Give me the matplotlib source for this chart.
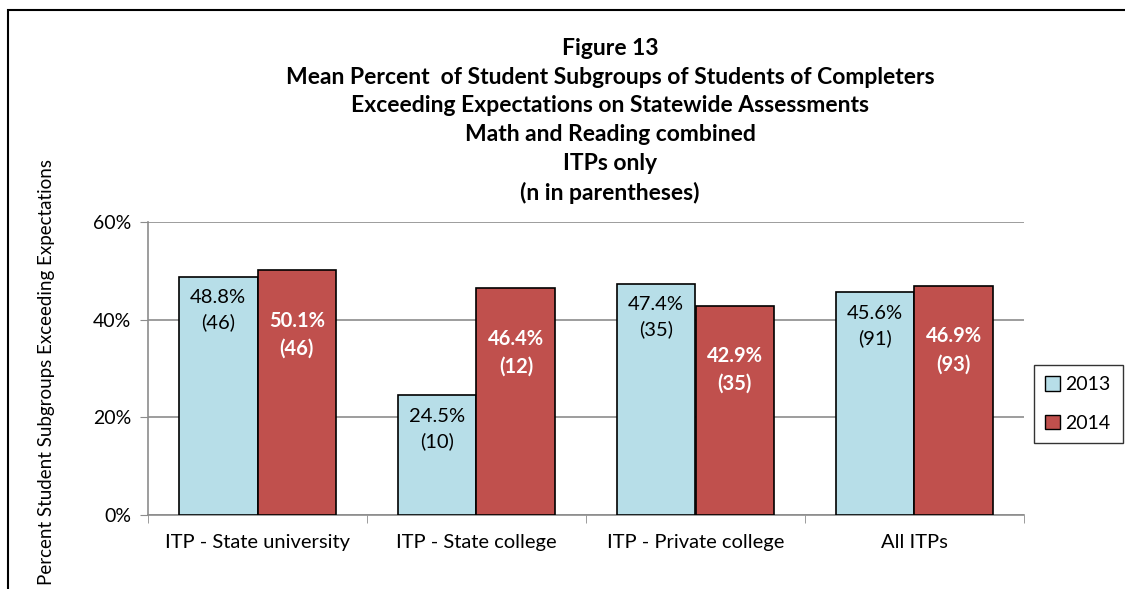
import matplotlib.pyplot as plt
import numpy as np
from matplotlib.patches import Patch, Rectangle

categories = ["ITP - State university", "ITP - State college", "ITP - Private college", "All ITPs"]
values_2013 = [48.8, 24.5, 47.4, 45.6]
values_2014 = [50.1, 46.4, 42.9, 46.9]
n_2013 = [46, 10, 35, 91]
n_2014 = [46, 12, 35, 93]
series_names = ["2013", "2014"]

title_lines = [
    "Figure 13",
    "Mean Percent  of Student Subgroups of Students of Completers",
    "Exceeding Expectations on Statewide Assessments",
    "Math and Reading combined",
    "ITPs only",
    "(n in parentheses)",
]

BLUE = "#B7DEE8"
RED = "#C0504D"
GRID = "#8C8C8C"

plt.rcParams["font.family"] = ["Lato", "DejaVu Sans"]

fig = plt.figure(figsize=(11.25, 5.89), dpi=100)
ax = fig.add_axes([148 / 1125, 1 - 515 / 589, (1024 - 148) / 1125, (515 - 222) / 589])

# outer frame (cut off at the right and bottom in the original)
fig.patches.append(Rectangle((8 / 1125, -0.1), 1.2, 1 - 10 / 589 + 0.1, transform=fig.transFigure,
                             fill=False, edgecolor="black", linewidth=1.5))

x = np.arange(len(categories))
width = 0.36
bars_a = ax.bar(x - width / 2, values_2013, width, color=BLUE, edgecolor="black", linewidth=1.2, zorder=3)
bars_b = ax.bar(x + width / 2, values_2014, width, color=RED, edgecolor="black", linewidth=1.2, zorder=3)

for bar, v, n in zip(bars_a, values_2013, n_2013):
    ax.annotate(f"{v:.1f}%\n({n})", (bar.get_x() + bar.get_width() / 2, v), xytext=(0, -9),
                textcoords="offset points", ha="center", va="top", fontsize=14.5,
                color="black", linespacing=1.5, zorder=4)
for bar, v, n in zip(bars_b, values_2014, n_2014):
    ax.annotate(f"{v:.1f}%\n({n})", (bar.get_x() + bar.get_width() / 2, v), xytext=(0, -29),
                textcoords="offset points", ha="center", va="top", fontsize=14.5,
                color="white", fontweight="bold", linespacing=1.5, zorder=4)

ax.set_xlim(-0.5, len(categories) - 0.5)
ax.set_ylim(0, 60)
ax.set_yticks([0, 20, 40, 60])
ax.set_yticklabels(["0%", "20%", "40%", "60%"], fontsize=14)
ax.set_xticks(x)
ax.set_xticklabels(categories, fontsize=14.5)
ax.tick_params(axis="x", length=0, pad=14)
ax.set_xticks(np.arange(len(categories) + 1) - 0.5, minor=True)
ax.tick_params(axis="x", which="minor", length=6, color=GRID, direction="out")
ax.tick_params(axis="y", length=6, color=GRID, pad=6)
ax.grid(axis="y", color=GRID, linewidth=1.2, zorder=0)
ax.set_axisbelow(True)
for side in ("top", "right"):
    ax.spines[side].set_visible(False)
for side in ("left", "bottom"):
    ax.spines[side].set_color(GRID)
    ax.spines[side].set_linewidth(1.2)

fig.text(47 / 1125, 1 - 372 / 589, "Percent Student Subgroups Exceeding Expectations", rotation=90,
         ha="center", va="center", fontsize=13.5)

fig.text(610 / 1125, 1 - 121 / 589, "\n".join(title_lines), ha="center", va="center",
         fontsize=16.5, fontweight="bold", linespacing=1.45)

handles = [Patch(facecolor=BLUE, edgecolor="black"), Patch(facecolor=RED, edgecolor="black")]
fig.legend(handles, series_names, loc="center", bbox_to_anchor=(1078 / 1125, 1 - 404 / 589),
           fontsize=14, frameon=True, fancybox=False, edgecolor="black", handlelength=0.75,
           handleheight=0.75, handletextpad=0.3, labelspacing=1.1, borderpad=0.6)

fig.savefig("out.png", dpi=100)
